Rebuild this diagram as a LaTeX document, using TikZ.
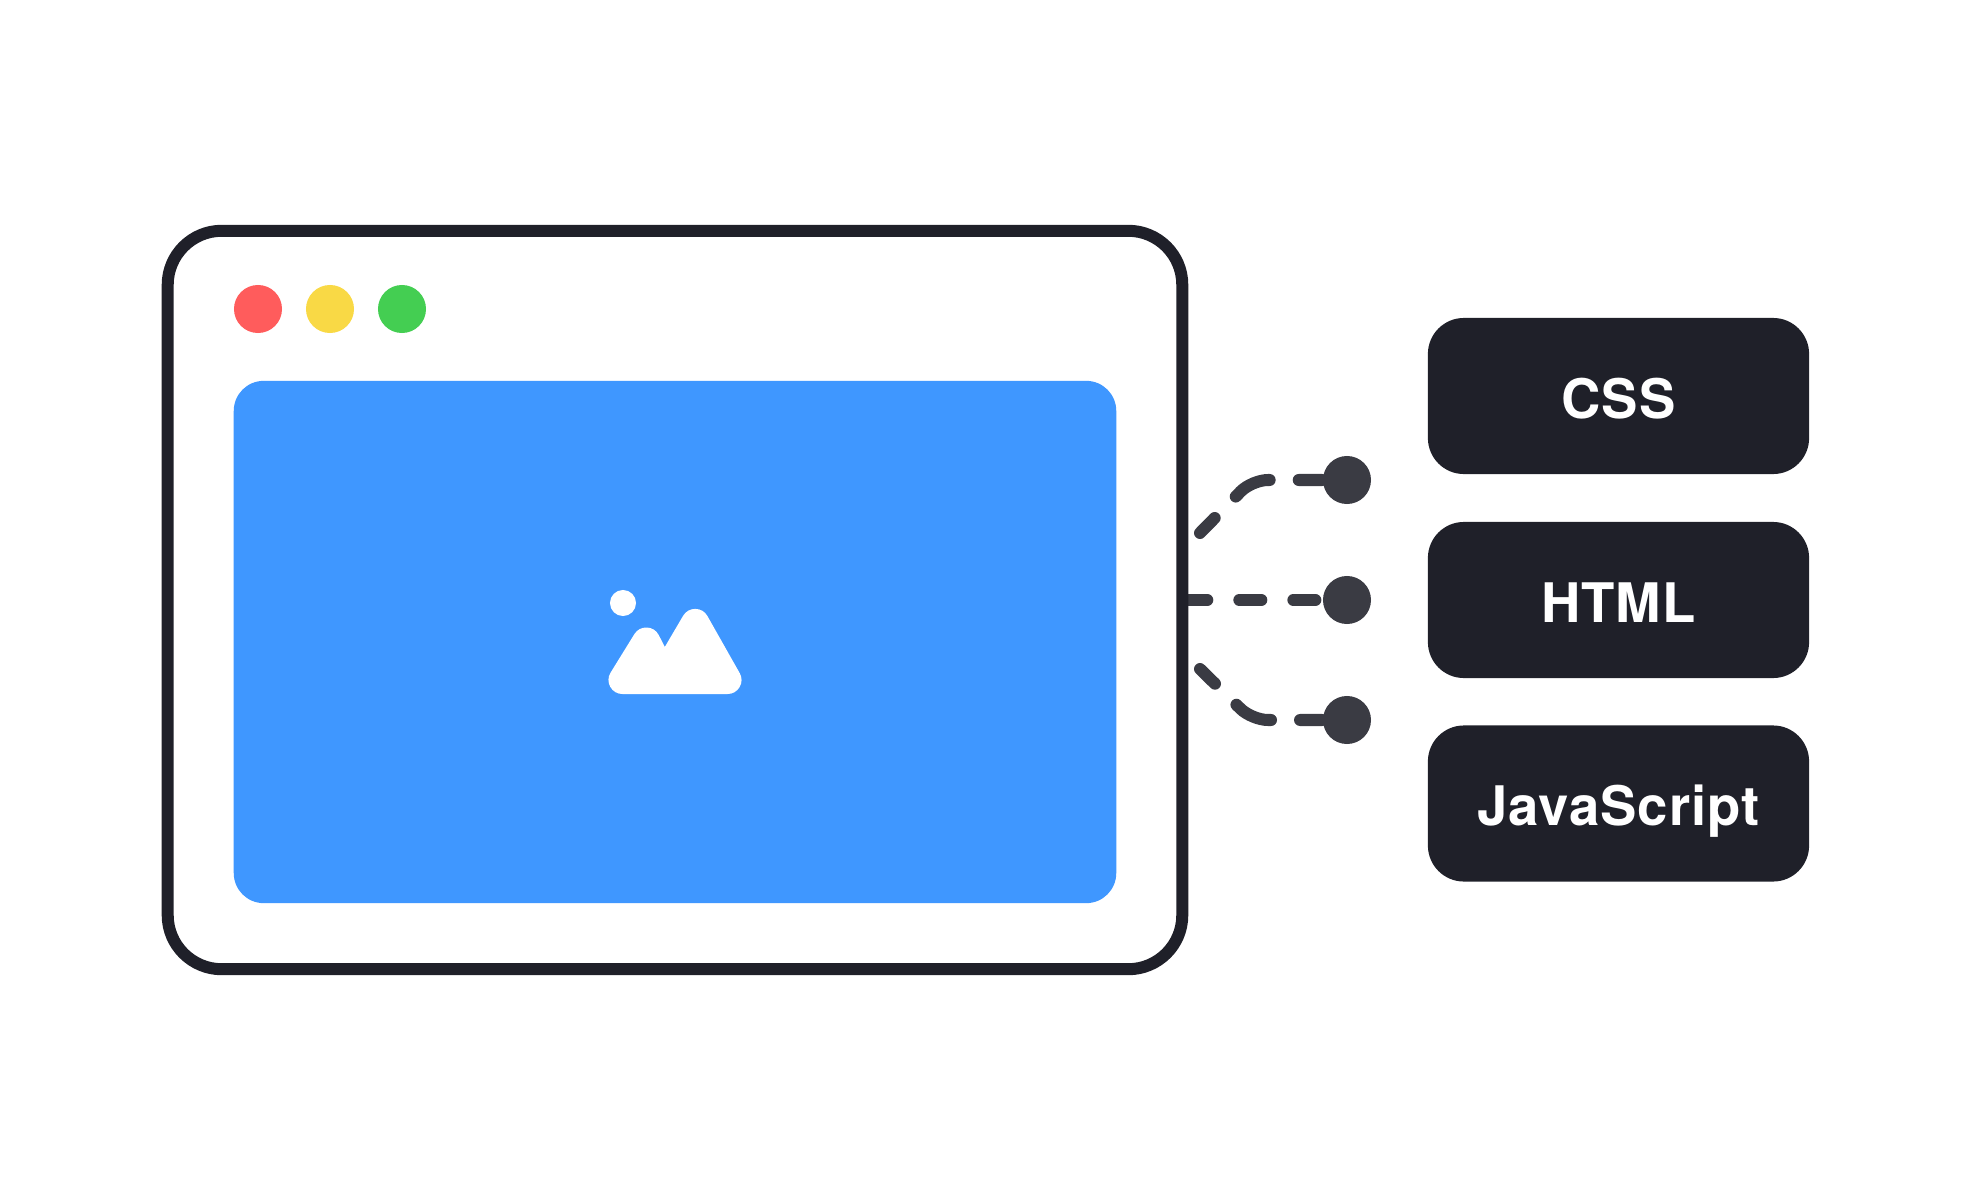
\documentclass[tikz,border=0pt]{standalone}
\usepackage{fontspec}
\setmainfont[LetterSpace=1.8]{TeX Gyre Heros}
\usepackage{tikz}
\definecolor{winDark}{HTML}{1F2029}
\definecolor{connDark}{HTML}{3A3B43}
\definecolor{panelBlue}{HTML}{3F97FF}
\definecolor{btnRed}{HTML}{FF5C5C}
\definecolor{btnYellow}{HTML}{F9D945}
\definecolor{btnGreen}{HTML}{44CE52}
\pgfdeclarelayer{bg}
\pgfsetlayers{bg,main}

\begin{document}
\begin{tikzpicture}[x=0.01cm, y=-0.01cm,
    winbox/.style={rectangle, draw=winDark, fill=white, line width=0.12cm, rounded corners=0.54cm, minimum width=10.14cm, minimum height=7.38cm},
    panel/.style={rectangle, fill=panelBlue, rounded corners=0.3cm, minimum width=8.82cm, minimum height=5.22cm},
    btn/.style={circle, minimum size=0.48cm, inner sep=0pt},
    dot/.style={circle, fill=connDark, minimum size=0.48cm, inner sep=0pt},
    lang/.style={rectangle, fill=winDark, text=white, rounded corners=0.36cm, minimum width=3.81cm, minimum height=1.56cm, inner sep=0pt,
      font=\fontsize{15.5}{18}\selectfont\bfseries, text height=0.44cm, text depth=0pt},
    conn/.style={connDark, line width=0.12cm, line cap=round}]
    \useasboundingbox (0,0) rectangle (1968,1200);

    \node[winbox] (win) at (675,600) {};
    \node[panel] (img) at (675,642) {};

    \node[btn, fill=btnRed] (red) at (258,309) {};
    \node[btn, fill=btnYellow] (yellow) at (330,309) {};
    \node[btn, fill=btnGreen] (green) at (402,309) {};

    % picture icon
    \fill[white] (623,603) circle (0.13cm);
    \filldraw[white, line width=0.28cm, line join=round]
      (622.5,680) -- (646.3,641.5) -- (664,676) -- (695.2,622.9) -- (727.5,680) -- cycle;

    \node[dot] (dot1) at (1347,480) {};
    \node[dot] (dot2) at (1347,600) {};
    \node[dot] (dot3) at (1347,720) {};

    \node[lang] (css) at (1618.5,396) {CSS};
    \node[lang] (html) at (1618.5,600) {HTML};
    \node[lang] (js) at (1618.5,803.5) {JavaScript};

    \coordinate (s1) at (1200,533);
    \coordinate (b1) at (1252,480);
    \coordinate (s3) at (1200,669);
    \coordinate (b3) at (1252,720);

    \begin{pgfonlayer}{bg}
      \draw[conn, rounded corners=0.16cm, dash pattern=on 0.21cm off 0.3cm on 0.39cm off 0.29cm on 1cm]
        (s1) -- (b1) -- (dot1);
      \draw[conn, dash pattern=on 0.19cm off 0.32cm on 0.22cm off 0.32cm on 0.22cm off 1cm]
        (win.east |- dot2) -- (dot2);
      \draw[conn, rounded corners=0.16cm, dash pattern=on 0.21cm off 0.3cm on 0.39cm off 0.29cm on 1cm]
        (s3) -- (b3) -- (dot3);
    \end{pgfonlayer}
\end{tikzpicture}
\end{document}
